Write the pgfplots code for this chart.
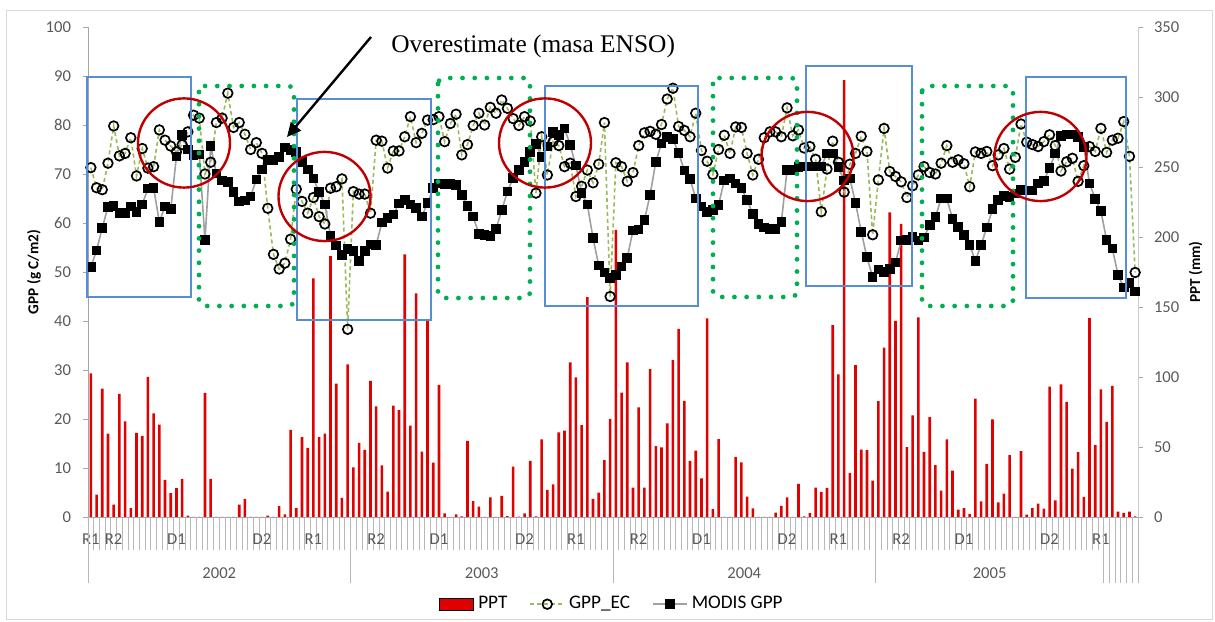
\documentclass[border=0pt]{standalone}
\usepackage{pgfplots}
\pgfplotsset{compat=1.18}
\usepackage{pgfplotstable}
\usepackage{fontspec}
\setmainfont{Carlito}
\newfontfamily\serif{Liberation Serif}
\usetikzlibrary{arrows.meta}

\definecolor{pptred}{RGB}{225,0,0}
\definecolor{ecgreen}{RGB}{155,187,89}
\definecolor{modisgray}{RGB}{160,160,160}
\definecolor{boxblue}{RGB}{85,142,213}
\definecolor{dotgreen}{RGB}{0,176,80}
\definecolor{circred}{RGB}{192,0,0}
\definecolor{ticktext}{RGB}{89,89,89}
\definecolor{axisgray}{RGB}{166,166,166}

% 8-day periods, 2002-2005: PPT (mm), GPP_EC and MODIS GPP (g C/m2)
\pgfplotstableread{
i ppt ec modis
0 102.6 71.3 51.0
1 16.0 67.2 54.4
2 91.7 66.8 59.0
3 59.5 72.2 63.3
4 8.8 79.8 63.5
5 87.9 73.7 62.0
6 68.3 74.2 62.0
7 6.3 77.4 63.4
8 60.0 69.6 62.3
9 58.0 75.2 63.8
10 100.0 71.2 67.0
11 74.0 71.5 67.2
12 66.0 79.0 60.2
13 26.6 76.9 63.4
14 17.0 75.7 62.8
15 20.7 74.5 73.6
16 27.3 76.0 78.0
17 1.0 78.6 75.0
18 0 82.0 73.9
19 0 81.4 74.0
20 88.6 70.0 56.5
21 27.3 72.4 75.7
22 0 80.5 70.1
23 0 81.4 68.7
24 0 86.5 68.4
25 0 79.5 66.3
26 8.8 80.5 64.4
27 13.0 78.1 64.6
28 0 75.0 65.4
29 0 76.4 68.9
30 0 74.2 70.9
31 1.0 63.0 72.9
32 0 53.6 72.9
33 7.7 50.6 73.5
34 1.8 51.8 75.4
35 62.3 56.7 74.9
36 6.3 66.9 74.5
37 57.0 64.4 72.4
38 49.4 62.0 70.9
39 170.5 65.2 69.1
40 57.0 61.3 66.3
41 59.5 59.8 63.8
42 186.4 67.1 57.4
43 95.2 67.4 55.4
44 13.7 69.0 53.5
45 109.0 38.3 54.7
46 35.4 66.4 54.3
47 52.9 65.9 52.3
48 48.0 65.9 54.3
49 97.3 62.0 55.6
50 79.1 76.9 55.5
51 36.8 76.7 60.1
52 18.2 71.2 61.0
53 79.5 74.7 61.7
54 76.3 74.7 64.0
55 187.6 77.6 64.7
56 65.3 81.7 63.8
57 159.8 76.4 63.0
58 46.7 78.3 61.3
59 140.0 81.0 64.1
60 38.8 81.1 67.1
61 94.3 81.7 68.1
62 2.6 76.6 68.0
63 0 80.3 67.9
64 1.9 82.2 67.7
65 0.5 73.9 65.7
66 54.3 76.0 63.5
67 11.4 79.9 61.3
68 7.4 82.4 57.8
69 0 80.0 57.6
70 14.0 83.6 57.3
71 0 82.4 58.8
72 15.0 85.1 62.6
73 0.7 83.4 66.4
74 36.0 81.3 69.2
75 0.3 79.9 70.8
76 2.6 81.7 72.5
77 40.0 80.8 74.5
78 0.5 66.1 76.1
79 55.5 77.6 73.5
80 19.3 69.8 75.6
81 23.3 76.6 78.6
82 60.5 75.8 78.0
83 61.7 71.5 79.3
84 110.5 72.2 75.9
85 99.8 65.4 71.7
86 65.7 67.5 66.1
87 157.0 70.8 63.8
88 12.9 68.2 56.9
89 17.4 72.0 51.3
90 40.7 80.5 49.9
91 70.0 45.0 48.8
92 205.0 72.3 49.4
93 88.8 71.5 51.1
94 110.5 68.5 52.9
95 21.0 70.3 58.5
96 78.3 75.8 58.7
97 21.0 78.4 60.6
98 105.7 78.7 65.7
99 50.7 78.1 72.5
100 49.8 80.1 76.2
101 66.9 85.3 77.6
102 112.0 87.5 77.1
103 134.3 79.7 74.3
104 82.9 78.9 70.7
105 40.0 77.6 69.0
106 47.4 82.4 65.0
107 27.6 74.8 63.4
108 141.9 72.6 62.3
109 5.7 69.9 62.7
110 55.7 75.0 63.7
111 0 77.9 68.7
112 0 74.2 69.1
113 43.0 79.6 68.1
114 39.0 79.5 67.1
115 14.5 74.2 64.7
116 6.2 69.8 61.8
117 0 73.0 59.8
118 0 77.4 59.1
119 0 78.6 58.8
120 3.1 78.6 58.8
121 7.9 77.6 60.2
122 14.0 83.5 70.8
123 0 77.8 70.8
124 23.6 79.0 71.4
125 0.5 75.3 71.5
126 2.7 75.6 71.5
127 21.0 73.0 71.5
128 17.9 62.3 71.5
129 20.8 71.0 74.2
130 137.0 76.7 74.2
131 101.9 72.4 71.4
132 312.0 66.3 68.7
133 31.5 72.0 69.1
134 108.4 74.2 64.1
135 48.2 77.7 58.2
136 47.7 74.6 53.0
137 26.0 57.6 49.0
138 82.8 68.8 50.5
139 121.0 79.3 50.0
140 217.6 70.5 50.6
141 140.0 69.5 51.9
142 209.3 68.4 56.4
143 49.9 65.2 56.5
144 72.6 67.6 57.1
145 142.5 69.8 56.4
146 46.5 71.5 57.0
147 71.4 70.3 59.6
148 37.0 70.0 61.2
149 18.9 72.2 65.0
150 55.4 75.8 65.0
151 33.2 72.4 60.8
152 5.3 72.9 59.2
153 6.4 72.1 57.6
154 2.1 67.4 55.5
155 84.5 74.5 52.3
156 11.2 74.2 55.5
157 37.9 74.6 59.1
158 69.7 71.7 62.8
159 10.5 73.9 64.7
160 16.7 75.2 65.5
161 44.2 71.0 65.3
162 0 73.4 66.0
163 47.0 80.2 66.7
164 1.7 76.5 66.6
165 6.4 76.0 66.6
166 9.5 75.6 68.1
167 6.0 76.6 68.6
168 93.1 78.0 71.2
169 11.9 75.8 74.2
170 94.7 70.6 77.7
171 82.3 72.5 78.1
172 34.6 73.2 78.1
173 46.3 68.5 77.6
174 14.3 71.7 75.5
175 142.0 75.6 68.1
176 51.3 74.6 64.9
177 91.2 79.3 62.4
178 68.0 74.4 56.5
179 93.6 76.9 54.8
180 3.8 77.3 49.4
181 2.9 80.7 46.8
182 3.8 73.6 47.7
183 0.5 49.9 46.0
}\gppdata

\pgfplotsset{
  base/.style={
    scale only axis, width=525pt, height=245pt,
    at={(44pt,52pt)}, anchor=south west,
    xmin=0, xmax=184,
    /pgf/number format/assume math mode=true,
    tick label style={font=\fontsize{8.3}{10}\selectfont, text=ticktext},
  },
}
\tikzset{lab/.style={font=\fontsize{8.3}{10}\selectfont, text=ticktext, anchor=center}}

\begin{document}
\begin{tikzpicture}

% PPT bars, right axis
\begin{axis}[base,
    ymin=0, ymax=350,
    axis x line=none, axis y line*=right,
    ytick={0,50,...,350}, ytick align=outside, major tick length=2.5pt,
    y axis line style={draw=axisgray!60},
    ytick style={draw=axisgray},
    yticklabel style={xshift=2pt},
    ylabel={\textbf{PPT (mm)}},
    every axis y label/.style={at={(rel axis cs:1.055,0.5)}, rotate=90, anchor=center,
      font=\fontsize{7.6}{9}\selectfont},
]
\addplot[ybar, bar width=1.3pt, fill=pptred, draw=none]
  table[x expr=\thisrow{i}+0.5, y=ppt]{\gppdata};
\end{axis}

% category ticks along the bottom
\begin{axis}[base,
    ymin=0, ymax=1,
    axis y line=none, axis x line*=bottom,
    x axis line style={draw=axisgray},
    xtick={0,...,184}, xticklabel=\empty,
    xtick align=outside, major tick length=16.5pt,
    xtick style={draw=axisgray!80, line width=0.4pt},
    clip=false,
]
\node[lab] at ([yshift=-11pt]axis cs:0.5,0) {R1};
\node[lab] at ([yshift=-11pt]axis cs:4.5,0) {R2};
\node[lab] at ([yshift=-11pt]axis cs:15.5,0) {D1};
\node[lab] at ([yshift=-11pt]axis cs:30.5,0) {D2};
\node[lab] at ([yshift=-11pt]axis cs:39.5,0) {R1};
\node[lab] at ([yshift=-11pt]axis cs:50.5,0) {R2};
\node[lab] at ([yshift=-11pt]axis cs:61.5,0) {D1};
\node[lab] at ([yshift=-11pt]axis cs:76.5,0) {D2};
\node[lab] at ([yshift=-11pt]axis cs:85.5,0) {R1};
\node[lab] at ([yshift=-11pt]axis cs:96.5,0) {R2};
\node[lab] at ([yshift=-11pt]axis cs:107.5,0) {D1};
\node[lab] at ([yshift=-11pt]axis cs:122.5,0) {D2};
\node[lab] at ([yshift=-11pt]axis cs:131.5,0) {R1};
\node[lab] at ([yshift=-11pt]axis cs:142.5,0) {R2};
\node[lab] at ([yshift=-11pt]axis cs:153.5,0) {D1};
\node[lab] at ([yshift=-11pt]axis cs:168.5,0) {D2};
\node[lab] at ([yshift=-11pt]axis cs:177.5,0) {R1};
\node[lab] at ([yshift=-28pt]axis cs:23,0) {2002};
\node[lab] at ([yshift=-28pt]axis cs:69,0) {2003};
\node[lab] at ([yshift=-28pt]axis cs:115,0) {2004};
\node[lab] at ([yshift=-28pt]axis cs:158,0) {2005};
\end{axis}

% year separators
\begin{axis}[base,
    ymin=0, ymax=1,
    axis y line=none, axis x line*=bottom,
    x axis line style={draw=none},
    xtick={0,46,92,138,178,179,180,181,182,183,184}, xticklabel=\empty,
    xtick align=outside, major tick length=33pt,
    xtick style={draw=axisgray!80, line width=0.4pt},
]
\end{axis}

% GPP lines, left axis
\begin{axis}[base,
    ymin=0, ymax=100,
    axis x line=none, axis y line*=left,
    ytick={0,10,...,100}, ytick align=outside, major tick length=2.5pt,
    y axis line style={draw=axisgray},
    ytick style={draw=axisgray},
    yticklabel style={xshift=-2.5pt},
    ylabel={\textbf{GPP (g C/m2)}},
    every axis y label/.style={at={(rel axis cs:-0.0514,0.5)}, rotate=90, anchor=center,
      font=\fontsize{7.6}{9}\selectfont},
    legend columns=3,
    legend style={at={(0.5,-0.178)}, anchor=center, draw=none, fill=none,
      font=\fontsize{9.6}{11}\selectfont,
      /tikz/every even column/.append style={column sep=9pt}},
]
\addlegendimage{area legend, fill=pptred, draw=none}
\addlegendentry{PPT}
\addplot[ecgreen, line width=0.8pt, dash pattern=on 2pt off 1.5pt,
         mark=o, mark size=2.4pt, mark options={solid, draw=black, line width=0.85pt}]
  table[x expr=\thisrow{i}+0.5, y=ec]{\gppdata};
\addlegendentry{GPP\_EC}
\addplot[modisgray, line width=0.8pt,
         mark=square*, mark size=2pt, mark options={solid, fill=black, draw=black}]
  table[x expr=\thisrow{i}+0.5, y=modis]{\gppdata};
\addlegendentry{MODIS GPP}
\end{axis}

% annotations, in pixel units of the original figure
\begin{scope}[x=0.5pt, y=-0.5pt, shift={(0pt,310.5pt)}]
\draw[gray!30, line width=0.5pt] (6,11) rectangle (1212,619);
\foreach \a/\b/\c/\d in {87/77/191/297, 297/99/431/320, 545/86/698/306, 806/66/912/286, 1026/77/1126/298}
  \draw[boxblue, line width=1.2pt] (\a,\b) rectangle (\c,\d);
\foreach \a/\b/\c/\d in {199/86/294/306, 438/78/530/298, 713/78/797/297, 922/86/1013/306}
  \draw[dotgreen, line width=2.4pt, line cap=round, dash pattern=on 0pt off 6.1pt, rounded corners=3pt]
    (\a,\b) rectangle (\c,\d);
\foreach \a/\b in {184/143, 324.5/196.5, 545/143, 807.5/156.5, 1040.5/156.5}
  \draw[circred, line width=1.2pt] (\a,\b) ellipse [x radius=23pt, y radius=22.3pt];
\draw[-{Triangle[length=7pt,width=6.5pt]}, line width=1.2pt] (371,37) -- (287,137);
\node[font=\serif\fontsize{12.7}{14}\selectfont, anchor=base west, inner sep=0pt] at (391,53) {Overestimate (masa ENSO)};
\end{scope}

\pgfresetboundingbox
\path (0,0) rectangle (607.5pt,310.5pt);
\end{tikzpicture}
\end{document}
